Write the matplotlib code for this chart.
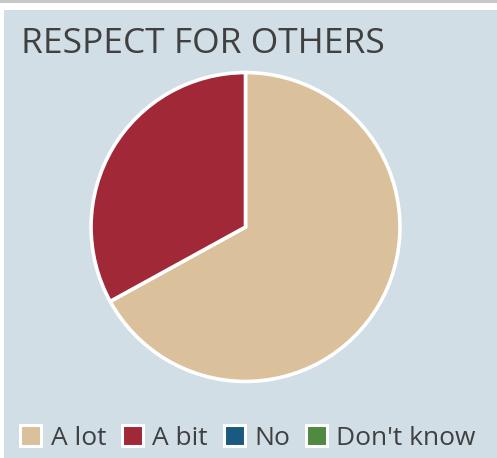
import matplotlib.pyplot as plt
from matplotlib.patches import Rectangle

# chart data
labels = ['A lot', 'A bit', 'No', "Don't know"]
values = [67, 33, 0, 0]
colors = ['#dbc19b', '#a12837', '#1b5a80', '#4f8a40']
title = 'RESPECT FOR OTHERS'

W, H = 497, 458
fig = plt.figure(figsize=(W / 100, H / 100), dpi=100)
fig.patch.set_facecolor('white')

# top grey strip and blue-grey panel
fig.patches.append(Rectangle((0, 1 - 3 / H), 1, 3 / H, transform=fig.transFigure,
                             facecolor='#c8c8c8', edgecolor='none', zorder=-5))
fig.patches.append(Rectangle((4 / W, 0), 1, (H - 10) / H, transform=fig.transFigure,
                             facecolor='#d1dee6', edgecolor='none', zorder=-5))

fig.text(21 / W, 1 - 44 / H, title, fontsize=25.5, color='#404040',
         family='Open Sans', va='center', ha='left')

# pie axes placed in pixels
cx, cy, r = 245.5, 227, 156
ax = fig.add_axes([(cx - r) / W, (H - cy - r) / H, 2 * r / W, 2 * r / H])
ax.set_facecolor('none')
ax.set_zorder(2)
nz = [(v, c) for v, c in zip(values, colors) if v > 0]
ax.pie([v for v, c in nz], colors=[c for v, c in nz], startangle=90, counterclock=False,
       radius=1, wedgeprops=dict(edgecolor='white', linewidth=2.6))
ax.set_xlim(-1.01, 1.01)
ax.set_ylim(-1.01, 1.01)
ax.set_aspect('equal')
ax.axis('off')

# legend with white framed squares
handles = [Rectangle((0, 0), 1, 1, facecolor=c, edgecolor='white', linewidth=2.2) for c in colors]
leg = fig.legend(handles, labels, loc='center', bbox_to_anchor=(248 / W, 1 - 438 / H),
                 ncol=4, frameon=False, handlelength=0.8, handleheight=0.8,
                 handletextpad=0.35, columnspacing=0.6,
                 prop={'family': 'Open Sans', 'size': 19})
for t in leg.get_texts():
    t.set_color('#404040')

fig.savefig('out.png', dpi=100)
